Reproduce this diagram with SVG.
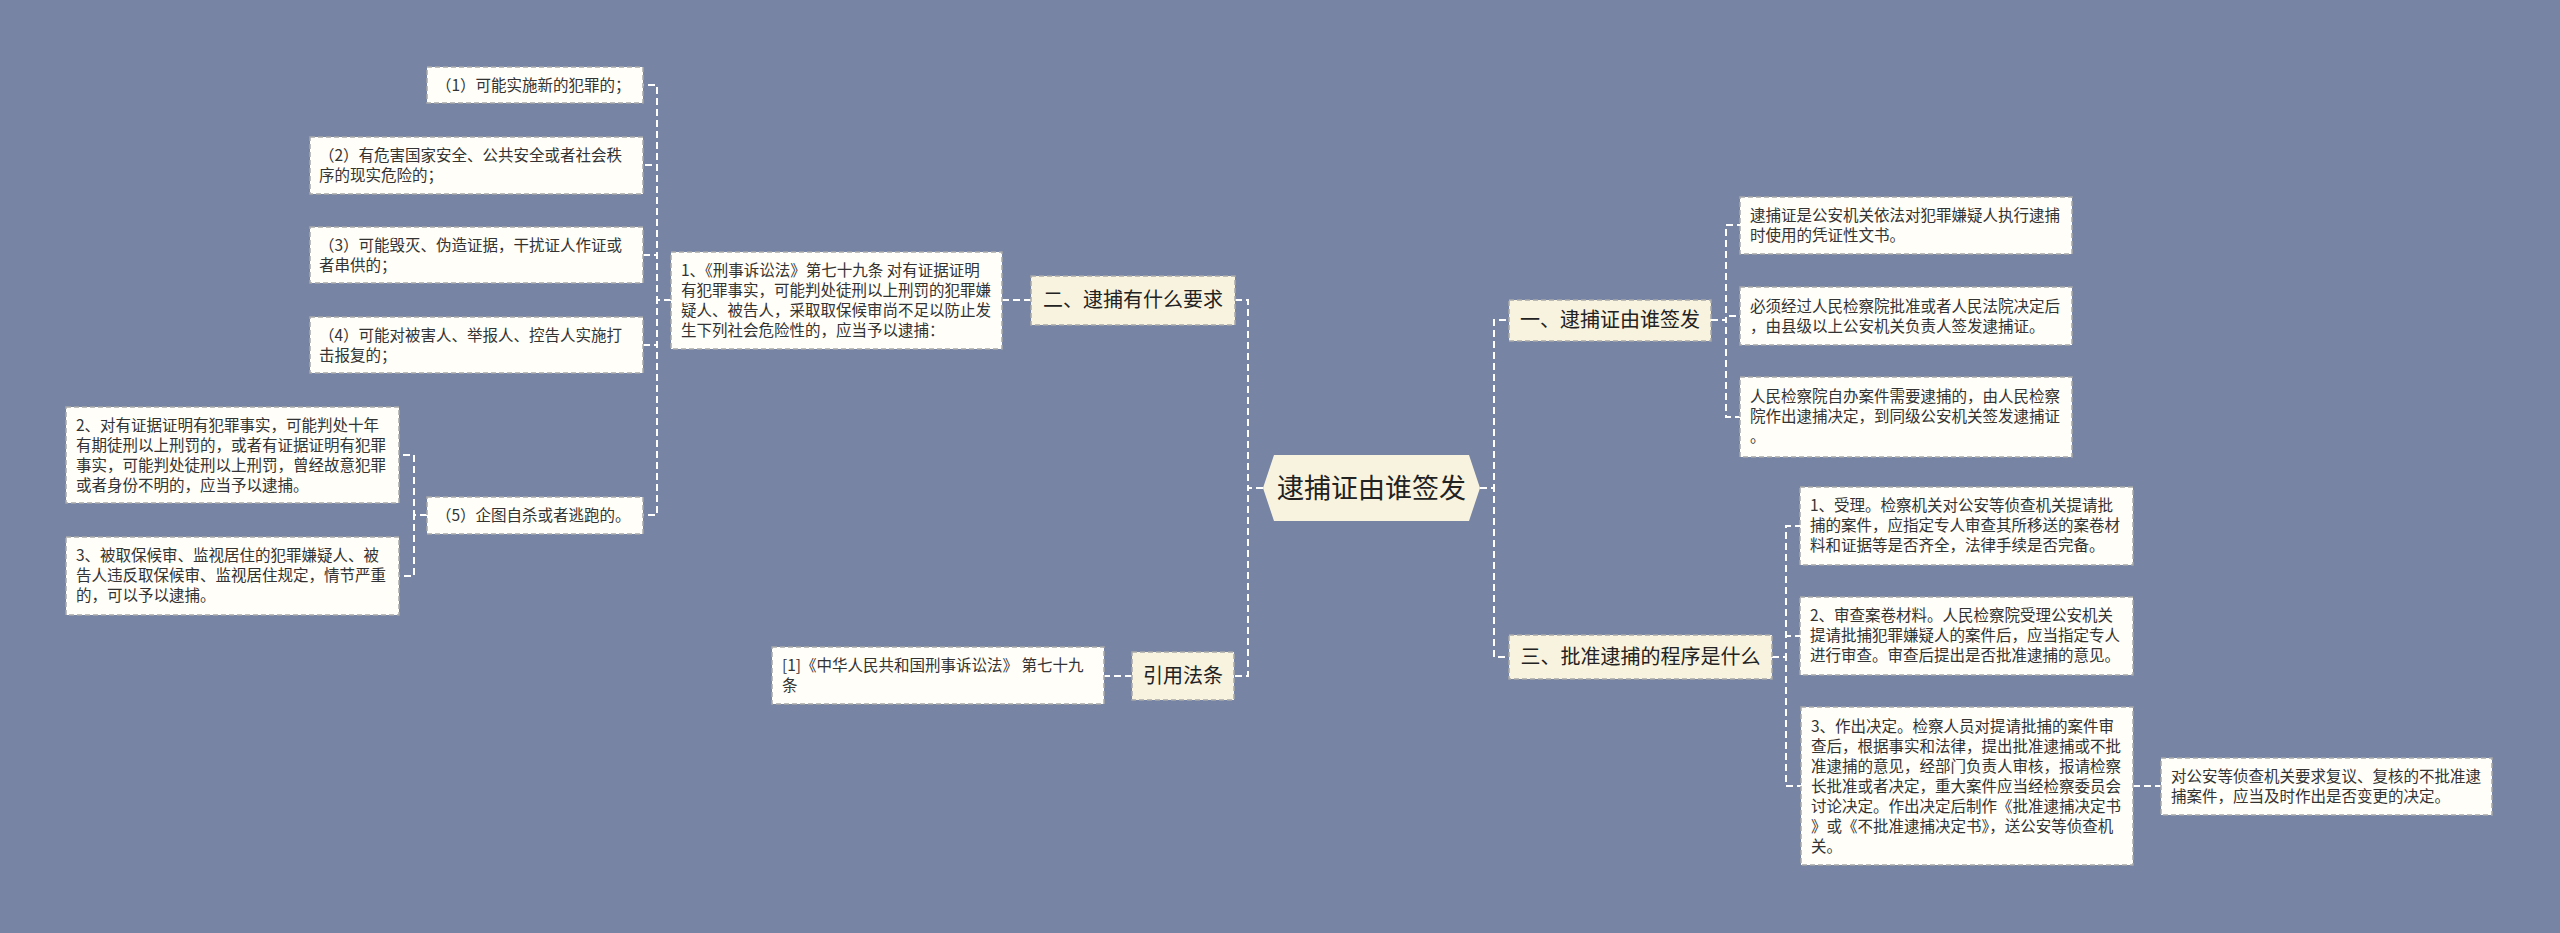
<svg xmlns="http://www.w3.org/2000/svg" width="2560" height="933" viewBox="0 0 2560 933">
<style>
.bg{fill:#7784a4}
.leaf{fill:#fffef8;stroke:#a8a8a8;stroke-width:1.5;stroke-dasharray:5 3}
.main{fill:#f8f3df;stroke:#a8a8a8;stroke-width:1.5;stroke-dasharray:5 3}
.hex{fill:#f8f3df}
.t{font-family:"Noto Sans CJK SC","Noto Sans",sans-serif;font-size:15.5px;fill:#333}
.tm{font-family:"Noto Sans CJK SC","Noto Sans",sans-serif;font-size:20px;fill:#222}
.tc{font-family:"Noto Sans CJK SC","Noto Sans",sans-serif;font-size:27px;fill:#222}
.c{fill:none;stroke:#ffffff;stroke-width:2;stroke-dasharray:7 4}
</style>
<rect class="bg" x="0" y="0" width="2560" height="933"/>
<g id="connectors">
<path class="c" d="M671,300 H657 V85 H643"/>
<path class="c" d="M671,300 H657 V165 H643"/>
<path class="c" d="M671,300 H657 V255 H643"/>
<path class="c" d="M671,300 H657 V345 H643"/>
<path class="c" d="M671,300 H657 V515 H643"/>
<path class="c" d="M427,515 H414 V455 H399"/>
<path class="c" d="M427,515 H414 V576 H399"/>
<path class="c" d="M1031,300 H1002"/>
<path class="c" d="M1263,488 H1248 V300 H1235"/>
<path class="c" d="M1263,488 H1248 V676 H1234"/>
<path class="c" d="M1132,676 H1104"/>
<path class="c" d="M1480,488 H1494 V320 H1509"/>
<path class="c" d="M1480,488 H1494 V657 H1509"/>
<path class="c" d="M1711,320 H1726 V225 H1740"/>
<path class="c" d="M1711,320 H1726 V316 H1740"/>
<path class="c" d="M1711,320 H1726 V417 H1740"/>
<path class="c" d="M1772,657 H1786 V526 H1800"/>
<path class="c" d="M1772,657 H1786 V636 H1800"/>
<path class="c" d="M1772,657 H1786 V786 H1801"/>
<path class="c" d="M2133,786 H2161"/>
</g>
<g id="center">
<polygon class="hex" points="1263,488 1274,455 1469,455 1480,488 1469,521 1274,521"/>
<text class="tc" x="1371.5" y="498" text-anchor="middle">逮捕证由谁签发</text>
</g>
<g id="n-er">
<rect class="main" x="1031" y="276" width="204" height="49"/>
<text class="tm" x="1133" y="307" text-anchor="middle">二、逮捕有什么要求</text>
</g>
<g id="n-yinyong">
<rect class="main" x="1132" y="652" width="102" height="48"/>
<text class="tm" x="1183" y="683" text-anchor="middle">引用法条</text>
</g>
<g id="n-yi">
<rect class="main" x="1509" y="300" width="202" height="41"/>
<text class="tm" x="1610" y="327" text-anchor="middle">一、逮捕证由谁签发</text>
</g>
<g id="n-san">
<rect class="main" x="1509" y="635" width="263" height="44"/>
<text class="tm" x="1640.5" y="664" text-anchor="middle">三、批准逮捕的程序是什么</text>
</g>
<g id="b1">
<rect class="leaf" x="671" y="252" width="331" height="97"/>
<text class="t" x="681"><tspan x="681" y="276">1、《刑事诉讼法》第七十九条 对有证据证明</tspan><tspan x="681" y="296">有犯罪事实，可能判处徒刑以上刑罚的犯罪嫌</tspan><tspan x="681" y="316">疑人、被告人，采取取保候审尚不足以防止发</tspan><tspan x="681" y="336">生下列社会危险性的，应当予以逮捕：</tspan></text>
</g>
<g id="b2">
<rect class="leaf" x="772" y="647" width="332" height="57"/>
<text class="t"><tspan x="782" y="671">[1]《中华人民共和国刑事诉讼法》 第七十九</tspan><tspan x="782" y="691">条</tspan></text>
</g>
<g id="a1">
<rect class="leaf" x="427" y="67" width="216" height="36"/>
<text class="t" x="436" y="91">（1）可能实施新的犯罪的；</text>
</g>
<g id="a2">
<rect class="leaf" x="310" y="137" width="333" height="57"/>
<text class="t"><tspan x="319" y="161">（2）有危害国家安全、公共安全或者社会秩</tspan><tspan x="319" y="181">序的现实危险的；</tspan></text>
</g>
<g id="a3">
<rect class="leaf" x="310" y="227" width="333" height="56"/>
<text class="t"><tspan x="319" y="251">（3）可能毁灭、伪造证据，干扰证人作证或</tspan><tspan x="319" y="271">者串供的；</tspan></text>
</g>
<g id="a4">
<rect class="leaf" x="310" y="317" width="333" height="56"/>
<text class="t"><tspan x="319" y="341">（4）可能对被害人、举报人、控告人实施打</tspan><tspan x="319" y="361">击报复的；</tspan></text>
</g>
<g id="a5">
<rect class="leaf" x="427" y="497" width="216" height="37"/>
<text class="t" x="436" y="521">（5）企图自杀或者逃跑的。</text>
</g>
<g id="a6">
<rect class="leaf" x="66" y="407" width="333" height="96"/>
<text class="t"><tspan x="76" y="431">2、对有证据证明有犯罪事实，可能判处十年</tspan><tspan x="76" y="451">有期徒刑以上刑罚的，或者有证据证明有犯罪</tspan><tspan x="76" y="471">事实，可能判处徒刑以上刑罚，曾经故意犯罪</tspan><tspan x="76" y="491">或者身份不明的，应当予以逮捕。</tspan></text>
</g>
<g id="a7">
<rect class="leaf" x="66" y="537" width="333" height="78"/>
<text class="t"><tspan x="76" y="561">3、被取保候审、监视居住的犯罪嫌疑人、被</tspan><tspan x="76" y="581">告人违反取保候审、监视居住规定，情节严重</tspan><tspan x="76" y="601">的，可以予以逮捕。</tspan></text>
</g>
<g id="c1">
<rect class="leaf" x="1740" y="197" width="332" height="57"/>
<text class="t"><tspan x="1750" y="221">逮捕证是公安机关依法对犯罪嫌疑人执行逮捕</tspan><tspan x="1750" y="241">时使用的凭证性文书。</tspan></text>
</g>
<g id="c2">
<rect class="leaf" x="1740" y="287" width="332" height="58"/>
<text class="t"><tspan x="1750" y="312">必须经过人民检察院批准或者人民法院决定后</tspan><tspan x="1750" y="332">，由县级以上公安机关负责人签发逮捕证。</tspan></text>
</g>
<g id="c3">
<rect class="leaf" x="1740" y="377" width="332" height="80"/>
<text class="t"><tspan x="1750" y="402">人民检察院自办案件需要逮捕的，由人民检察</tspan><tspan x="1750" y="422">院作出逮捕决定，到同级公安机关签发逮捕证</tspan><tspan x="1750" y="442">。</tspan></text>
</g>
<g id="d1">
<rect class="leaf" x="1800" y="487" width="333" height="78"/>
<text class="t"><tspan x="1810" y="511">1、受理。检察机关对公安等侦查机关提请批</tspan><tspan x="1810" y="531">捕的案件，应指定专人审查其所移送的案卷材</tspan><tspan x="1810" y="551">料和证据等是否齐全，法律手续是否完备。</tspan></text>
</g>
<g id="d2">
<rect class="leaf" x="1800" y="597" width="333" height="78"/>
<text class="t"><tspan x="1810" y="621">2、审查案卷材料。人民检察院受理公安机关</tspan><tspan x="1810" y="641">提请批捕犯罪嫌疑人的案件后，应当指定专人</tspan><tspan x="1810" y="661">进行审查。审查后提出是否批准逮捕的意见。</tspan></text>
</g>
<g id="d3">
<rect class="leaf" x="1801" y="707" width="332" height="158"/>
<text class="t"><tspan x="1811" y="732">3、作出决定。检察人员对提请批捕的案件审</tspan><tspan x="1811" y="752">查后，根据事实和法律，提出批准逮捕或不批</tspan><tspan x="1811" y="772">准逮捕的意见，经部门负责人审核，报请检察</tspan><tspan x="1811" y="792">长批准或者决定，重大案件应当经检察委员会</tspan><tspan x="1811" y="812">讨论决定。作出决定后制作《批准逮捕决定书</tspan><tspan x="1811" y="832">》或《不批准逮捕决定书》，送公安等侦查机</tspan><tspan x="1811" y="852">关。</tspan></text>
</g>
<g id="e1">
<rect class="leaf" x="2161" y="758" width="331" height="57"/>
<text class="t"><tspan x="2171" y="782">对公安等侦查机关要求复议、复核的不批准逮</tspan><tspan x="2171" y="802">捕案件，应当及时作出是否变更的决定。</tspan></text>
</g>
</svg>
